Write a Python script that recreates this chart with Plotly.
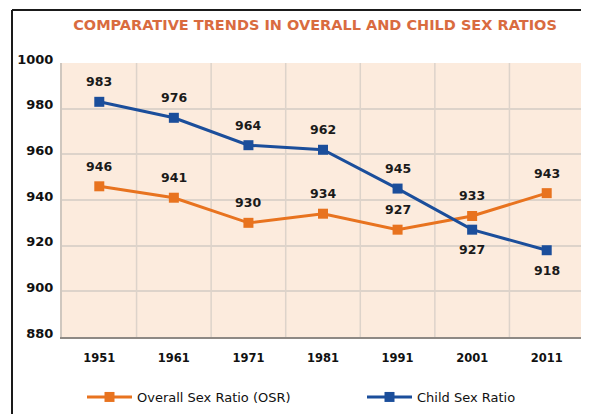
import plotly.graph_objects as go

years = ["1951", "1961", "1971", "1981", "1991", "2001", "2011"]
osr = [946, 941, 930, 934, 927, 933, 943]
csr = [983, 976, 964, 962, 945, 927, 918]
osr_side = [1, 1, 1, 1, 1, 1, 1]        # 1 = label above, -1 = below
csr_side = [1, 1, 1, 1, 1, -1, -1]
y_ticks = [880, 900, 920, 940, 960, 980, 1000]

x = list(range(len(years)))
FONT = "DejaVu Sans"
ORANGE = "#E8731F"
BLUE = "#1B4E9B"
GRID = "#DDD3CA"

# the page body adds an 8px offset; figure coords = screen coords - 8
L, T, R, B = 54, 55, 13, 85
PW, PH = 589 - L - R, 414 - T - B

fig = go.Figure()
for name, vals, color, lg in [("Overall Sex Ratio (OSR)", osr, ORANGE, "legend"),
                              ("Child Sex Ratio", csr, BLUE, "legend2")]:
    fig.add_trace(go.Scatter(
        x=x, y=vals, name=name, mode="lines+markers", legend=lg,
        line=dict(color=color, width=3),
        marker=dict(symbol="square", size=10, color=color),
        cliponaxis=False,
    ))

annotations = []
for vals, side in [(osr, osr_side), (csr, csr_side)]:
    for xi, v, s in zip(x, vals, side):
        annotations.append(dict(x=xi, y=v, text=str(v), showarrow=False, yshift=20 * s,
                                font=dict(family=FONT, size=12.5, color="#1a1a1a", weight=700)))

legend_common = dict(orientation="h", y=-60 / PH, xanchor="left", yanchor="middle",
                     font=dict(family=FONT, size=13, color="#111111"),
                     itemwidth=45, bgcolor="rgba(0,0,0,0)")

fig.update_layout(
    width=589, height=414,
    margin=dict(l=L, r=R, t=T, b=B, autoexpand=False),
    paper_bgcolor="white",
    plot_bgcolor="#FCEBDD",
    title=dict(text="COMPARATIVE TRENDS IN OVERALL AND CHILD SEX RATIOS",
               x=307 / 589, xanchor="center", y=1 - 17 / 414, yanchor="middle",
               font=dict(family=FONT, size=14.5, color="#D96B3F", weight=700)),
    showlegend=True,
    legend=dict(x=20 / PW, **legend_common),
    legend2=dict(x=300 / PW, **legend_common),
    annotations=annotations,
    xaxis=dict(range=[-0.5, 6.5], tickvals=x, ticktext=years, showgrid=False,
               zeroline=False, ticks="", ticklabelstandoff=9,
               tickfont=dict(family=FONT, size=11.5, color="#111111", weight=700),
               showline=True, linecolor="#8E8984", linewidth=2),
    yaxis=dict(range=[880, 1000], tickvals=y_ticks, showgrid=True,
               gridcolor=GRID, gridwidth=1.5, zeroline=False, ticks="",
               ticklabelstandoff=4, ticklabelshift=-4,
               tickfont=dict(family=FONT, size=13, color="#111111", weight=700),
               showline=True, linecolor="#CFC7BF", linewidth=2, mirror=True),
    shapes=[
        dict(type="line", xref="paper", yref="paper",
             x0=-50 / PW, x1=525 / PW, y0=1 + 53 / PH, y1=1 + 53 / PH,
             line=dict(color="#1a1a1a", width=2)),
        dict(type="line", xref="paper", yref="paper",
             x0=-50 / PW, x1=-50 / PW, y0=1 + 53 / PH, y1=-100 / PH,
             line=dict(color="#1a1a1a", width=2)),
        dict(type="line", xref="paper", yref="paper",
             x0=525 / PW, x1=525 / PW, y0=1 + 53 / PH, y1=-100 / PH,
             line=dict(color="#1a1a1a", width=2)),
    ] + [
        dict(type="line", xref="x", yref="paper", x0=i + 0.5, x1=i + 0.5, y0=0, y1=1,
             layer="below", line=dict(color=GRID, width=1.5))
        for i in x[:-1]
    ],
)

fig.write_html("out.html")
